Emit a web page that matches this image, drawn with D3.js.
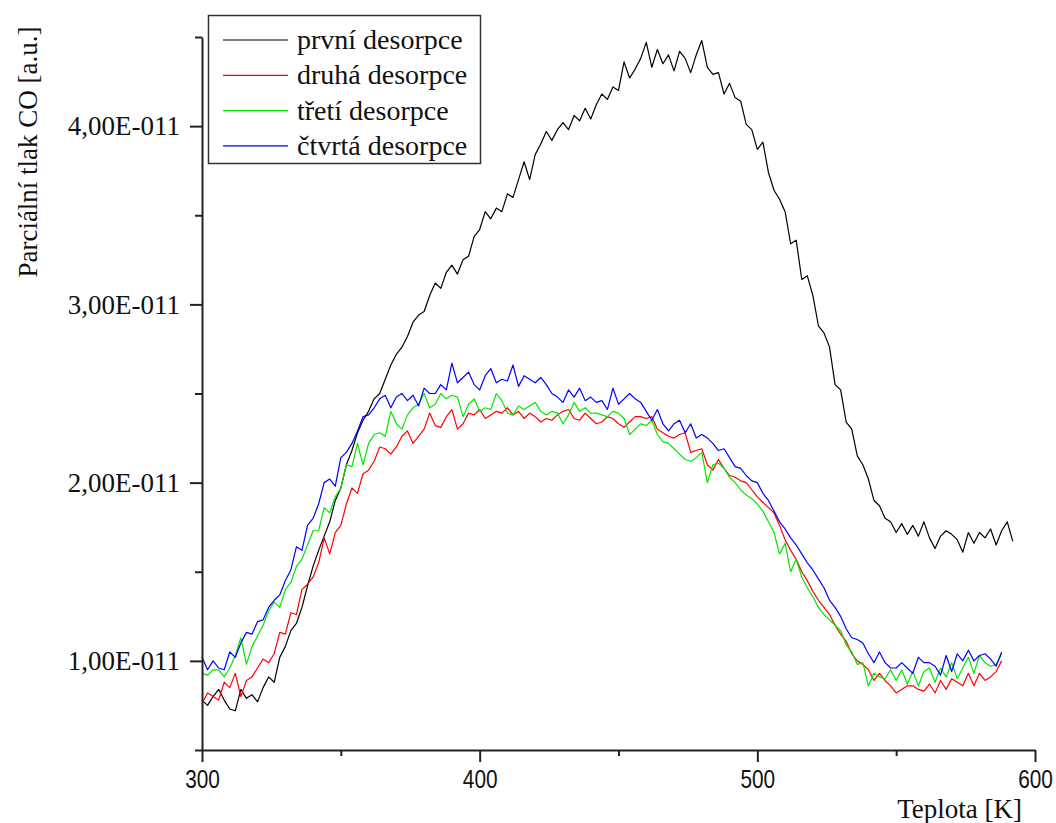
<!DOCTYPE html>
<html>
<head>
<meta charset="utf-8">
<script src="https://cdn.jsdelivr.net/npm/d3@7"></script>
<style>
  body { margin: 0; background: #fff; }
  svg { display: block; }
  .serif { font-family: "Liberation Serif", "Tinos", "Times New Roman", "DejaVu Serif", serif; }
</style>
</head>
<body>
<svg id="chart" width="1056" height="823"></svg>
<script>
// Teplota [K], krok 2 K
var teploty = d3.range(300, 593, 2);

// Parciální tlak CO v jednotkách 1e-11
var prvni = [0.78,0.75,0.80,0.84,0.78,0.73,0.72,0.84,0.79,0.81,0.77,0.85,0.91,0.88,1.02,1.08,1.17,1.21,1.30,1.42,
  1.53,1.62,1.70,1.78,1.90,1.97,2.10,2.18,2.28,2.35,2.40,2.47,2.50,2.58,2.66,2.72,2.76,2.82,2.90,2.94,
  2.96,3.05,3.12,3.09,3.18,3.22,3.17,3.25,3.27,3.38,3.42,3.52,3.48,3.54,3.52,3.62,3.60,3.70,3.80,3.70,
  3.84,3.90,3.97,3.92,3.98,4.02,3.98,4.06,4.03,4.10,4.04,4.12,4.18,4.15,4.22,4.20,4.36,4.27,4.32,4.38,
  4.47,4.33,4.43,4.35,4.40,4.31,4.42,4.38,4.30,4.40,4.48,4.33,4.29,4.30,4.18,4.24,4.16,4.14,4.01,3.98,
  3.87,3.91,3.74,3.64,3.59,3.52,3.34,3.36,3.14,3.16,3.05,2.88,2.84,2.76,2.55,2.52,2.34,2.30,2.15,2.10,
  2.02,1.90,1.87,1.80,1.78,1.72,1.77,1.71,1.76,1.70,1.78,1.69,1.63,1.70,1.73,1.71,1.68,1.61,1.72,1.66,
  1.72,1.69,1.74,1.65,1.73,1.78,1.67];

var druha = [0.76,0.82,0.80,0.78,0.88,0.85,0.93,0.80,0.89,0.91,0.96,1.01,0.99,1.04,1.16,1.15,1.27,1.26,1.40,1.43,
  1.47,1.55,1.69,1.60,1.72,1.76,1.88,1.97,1.94,2.05,2.07,2.12,2.20,2.19,2.16,2.20,2.26,2.29,2.22,2.26,
  2.30,2.39,2.32,2.31,2.37,2.41,2.30,2.33,2.39,2.38,2.41,2.36,2.38,2.40,2.39,2.42,2.38,2.40,2.36,2.39,
  2.37,2.34,2.36,2.35,2.38,2.40,2.41,2.36,2.35,2.39,2.36,2.33,2.34,2.37,2.36,2.33,2.31,2.34,2.37,2.37,
  2.36,2.37,2.30,2.28,2.26,2.25,2.27,2.28,2.17,2.18,2.19,2.10,2.07,2.13,2.08,2.04,2.03,2.01,2.00,1.96,
  1.92,1.89,1.86,1.83,1.76,1.68,1.62,1.57,1.50,1.45,1.39,1.34,1.30,1.26,1.20,1.15,1.11,1.04,1.00,0.98,
  0.95,0.89,0.93,0.89,0.86,0.82,0.84,0.86,0.86,0.84,0.83,0.87,0.82,0.89,0.84,0.90,0.88,0.86,0.93,0.86,
  0.93,0.89,0.91,0.94,1.00];

var treti = [0.93,0.92,0.95,0.95,0.91,0.96,1.03,1.13,0.98,1.08,1.14,1.20,1.28,1.33,1.30,1.40,1.44,1.53,1.57,1.65,
  1.73,1.73,1.86,1.83,1.92,1.97,2.10,2.09,2.22,2.10,2.22,2.27,2.28,2.26,2.40,2.33,2.30,2.38,2.42,2.44,
  2.50,2.42,2.44,2.50,2.47,2.49,2.48,2.37,2.44,2.47,2.40,2.42,2.41,2.50,2.46,2.39,2.38,2.43,2.41,2.43,
  2.45,2.40,2.38,2.40,2.39,2.33,2.38,2.45,2.40,2.42,2.39,2.39,2.38,2.37,2.40,2.39,2.36,2.27,2.30,2.33,
  2.32,2.35,2.27,2.23,2.22,2.19,2.16,2.13,2.12,2.14,2.17,2.00,2.10,2.11,2.08,2.03,2.00,1.96,1.93,1.91,
  1.88,1.84,1.78,1.72,1.60,1.66,1.50,1.57,1.47,1.41,1.36,1.30,1.26,1.23,1.20,1.17,1.09,1.05,0.98,0.99,
  0.86,0.93,0.91,0.90,0.95,0.89,0.95,0.87,0.94,0.86,0.94,0.96,0.88,0.96,0.91,0.99,0.90,0.96,1.02,0.93,
  1.03,0.99,0.97,0.98,1.04];

var ctvrta = [1.02,0.95,1.00,0.96,0.95,1.05,1.02,1.10,1.16,1.15,1.22,1.23,1.30,1.34,1.37,1.45,1.51,1.64,1.62,1.76,
  1.80,1.88,2.00,2.02,1.98,2.14,2.17,2.22,2.29,2.37,2.38,2.42,2.47,2.49,2.42,2.48,2.50,2.46,2.49,2.43,
  2.53,2.50,2.50,2.55,2.52,2.67,2.56,2.59,2.62,2.55,2.52,2.60,2.64,2.56,2.58,2.57,2.66,2.54,2.60,2.58,
  2.56,2.59,2.55,2.50,2.48,2.45,2.52,2.48,2.53,2.46,2.48,2.45,2.46,2.41,2.53,2.44,2.47,2.50,2.47,2.45,
  2.40,2.35,2.41,2.33,2.29,2.33,2.35,2.28,2.33,2.25,2.27,2.25,2.22,2.18,2.19,2.14,2.09,2.08,2.04,2.01,
  2.00,1.94,1.90,1.84,1.78,1.74,1.69,1.65,1.60,1.55,1.51,1.46,1.41,1.34,1.30,1.25,1.18,1.13,1.12,1.10,
  1.04,0.99,1.05,0.99,0.96,0.96,0.99,0.96,0.93,1.02,0.99,0.99,0.97,0.92,1.03,0.94,1.04,1.00,1.06,1.00,
  1.03,1.04,1.01,0.97,1.05];

var nazvy = ["první desorpce", "druhá desorpce", "třetí desorpce", "čtvrtá desorpce"];
var barvy = ["#000000", "#ff0000", "#00e600", "#0000ff"];
var serie = [prvni, druha, treti, ctvrta];

var xTicks = [300, 400, 500, 600];
var xMinor = [350, 450, 550];
var yTicks = [1, 2, 3, 4];
var yMinor = [0.5, 1.5, 2.5, 3.5, 4.5];
var JEDNOTKA = 1e-11;

var svg = d3.select("#chart");

// Plocha grafu
var x = d3.scaleLinear().domain([300, 600]).range([202, 1035]);
var y = d3.scaleLinear().domain([0.5 * JEDNOTKA, 4.5 * JEDNOTKA]).range([750, 37]);

// Formát 4,00E-011
function formatE(v) {
    var e = Math.floor(Math.log10(v) + 1e-9);
    var m = v / Math.pow(10, e);
    var s = m.toFixed(2).replace(".", ",");
    return s + "E" + (e < 0 ? "-" : "+") + String(Math.abs(e)).padStart(3, "0");
}

// Čáry
var line = d3.line()
    .x(function(d) { return x(d[0]); })
    .y(function(d) { return y(d[1] * JEDNOTKA); });

serie.forEach(function(s, i) {
    var body = s.map(function(v, j) { return [teploty[j], v]; });
    svg.append("path")
        .datum(body)
        .attr("fill", "none")
        .attr("stroke", barvy[i])
        .attr("stroke-width", 1.2)
        .attr("stroke-linejoin", "round")
        .attr("d", line);
});

// Osa Y - vedlejší ticky
svg.append("g")
    .attr("transform", "translate(202,0)")
    .call(d3.axisLeft(y).tickValues(yMinor.map(function(v) { return v * JEDNOTKA; }))
        .tickSize(7).tickSizeOuter(0).tickFormat(""))
    .call(function(g) { g.select(".domain").remove(); })
    .selectAll("line").attr("stroke", "#222").attr("stroke-width", 2);

// Osa Y - hlavní ticky
var osaY = svg.append("g")
    .attr("transform", "translate(202,0)")
    .call(d3.axisLeft(y).tickValues(yTicks.map(function(v) { return v * JEDNOTKA; }))
        .tickSize(12).tickSizeOuter(0).tickPadding(10).tickFormat(formatE));
osaY.attr("font-family", null).attr("font-size", null);
osaY.select(".domain").attr("stroke", "#222").attr("stroke-width", 2);
osaY.selectAll(".tick line").attr("stroke", "#222").attr("stroke-width", 2);
osaY.selectAll("text")
    .attr("class", "serif")
    .style("font-size", "27px")
    .attr("fill", "#111");

// Osa X - vedlejší ticky
svg.append("g")
    .attr("transform", "translate(0,750)")
    .call(d3.axisBottom(x).tickValues(xMinor).tickSize(6).tickSizeOuter(0).tickFormat(""))
    .call(function(g) { g.select(".domain").remove(); })
    .selectAll("line").attr("stroke", "#222").attr("stroke-width", 2);

// Osa X - hlavní ticky
var osaX = svg.append("g")
    .attr("transform", "translate(0,750)")
    .call(d3.axisBottom(x).tickValues(xTicks).tickSize(12).tickSizeOuter(0).tickPadding(8));
osaX.attr("font-family", null).attr("font-size", null);
osaX.select(".domain").attr("stroke", "#222").attr("stroke-width", 2);
osaX.selectAll(".tick line").attr("stroke", "#222").attr("stroke-width", 2);
// zúžené bezpatkové písmo
osaX.selectAll("text")
    .style("font-family", "'Liberation Sans', Arial, sans-serif")
    .style("font-size", "26px")
    .attr("transform", "scale(0.8,1)")
    .attr("fill", "#111");

// Popisky os
svg.append("text")
    .attr("class", "serif")
    .attr("x", 1022)
    .attr("y", 818)
    .attr("text-anchor", "end")
    .style("font-size", "27px")
    .attr("fill", "#111")
    .text("Teplota [K]");

svg.append("text")
    .attr("class", "serif")
    .attr("transform", "translate(37,152) rotate(-90)")
    .attr("text-anchor", "middle")
    .style("font-size", "27px")
    .attr("fill", "#111")
    .text("Parciální tlak CO [a.u.]");

// Legenda
var legenda = svg.append("g");
legenda.append("rect")
    .attr("x", 208.5).attr("y", 15.5)
    .attr("width", 272).attr("height", 148)
    .attr("fill", "#fff")
    .attr("stroke", "#333")
    .attr("stroke-width", 1.5);

nazvy.forEach(function(n, i) {
    var ly = 40 + i * 35.3;
    legenda.append("line")
        .attr("x1", 223).attr("x2", 288)
        .attr("y1", ly).attr("y2", ly)
        .attr("stroke", barvy[i])
        .attr("stroke-width", 1.2);
    legenda.append("text")
        .attr("class", "serif")
        .attr("x", 297)
        .attr("y", ly + 9)
        .style("font-size", "28px")
        .attr("fill", "#111")
        .text(n);
});
</script>
</body>
</html>
